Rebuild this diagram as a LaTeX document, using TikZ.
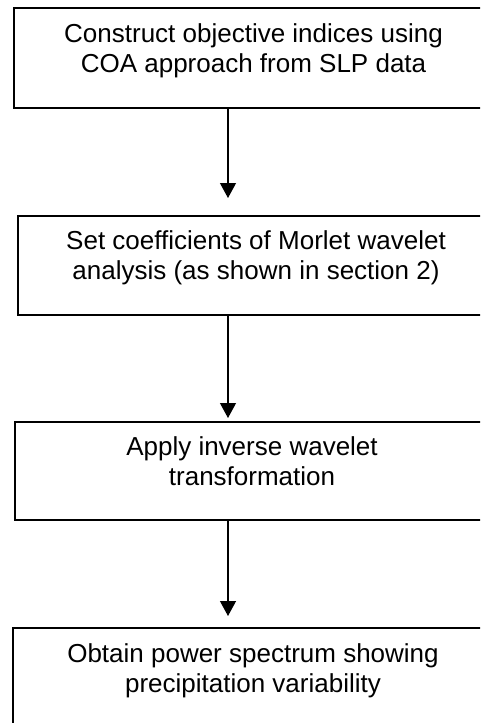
\documentclass[tikz,border=0pt]{standalone}
\usepackage{fontspec}
\setmainfont{Liberation Sans}
\usetikzlibrary{arrows.meta}
\begin{document}
\begin{tikzpicture}[x=1pt, y=-1pt,
  stepbox/.style={rectangle, draw, line width=1.8pt, align=center,
    inner sep=0pt, text depth=20pt, font=\fontsize{26}{30}\selectfont},
  flow/.style={line width=1.2pt, -{Triangle[width=16pt,length=15pt]}}]
\useasboundingbox (0,0) rectangle (480,723);
\clip (0,0) rectangle (480,723);
\draw (253.5,58) node(coa) [stepbox, minimum width=479pt, minimum height=100pt] {Construct objective indices using\\COA approach from SLP data};
\draw (256,265.5) node(morlet) [stepbox, minimum width=476pt, minimum height=99pt] {Set coefficients of Morlet wavelet\\analysis (as shown in section 2)};
\draw (252,471) node(inverse) [stepbox, minimum width=474pt, minimum height=98pt] {Apply inverse wavelet\\transformation};
\draw (253,678) node(spectrum) [stepbox, minimum width=480pt, minimum height=100pt] {Obtain power spectrum showing\\precipitation variability};
% arrow tips stop short of the next box
\coordinate (tip1) at (228,198);
\coordinate (tip2) at (228,418);
\coordinate (tip3) at (228,616);
\draw[flow] (coa.south -| tip1) -- (tip1);
\draw[flow] (morlet.south -| tip2) -- (tip2);
\draw[flow] (inverse.south -| tip3) -- (tip3);
\end{tikzpicture}
\end{document}
